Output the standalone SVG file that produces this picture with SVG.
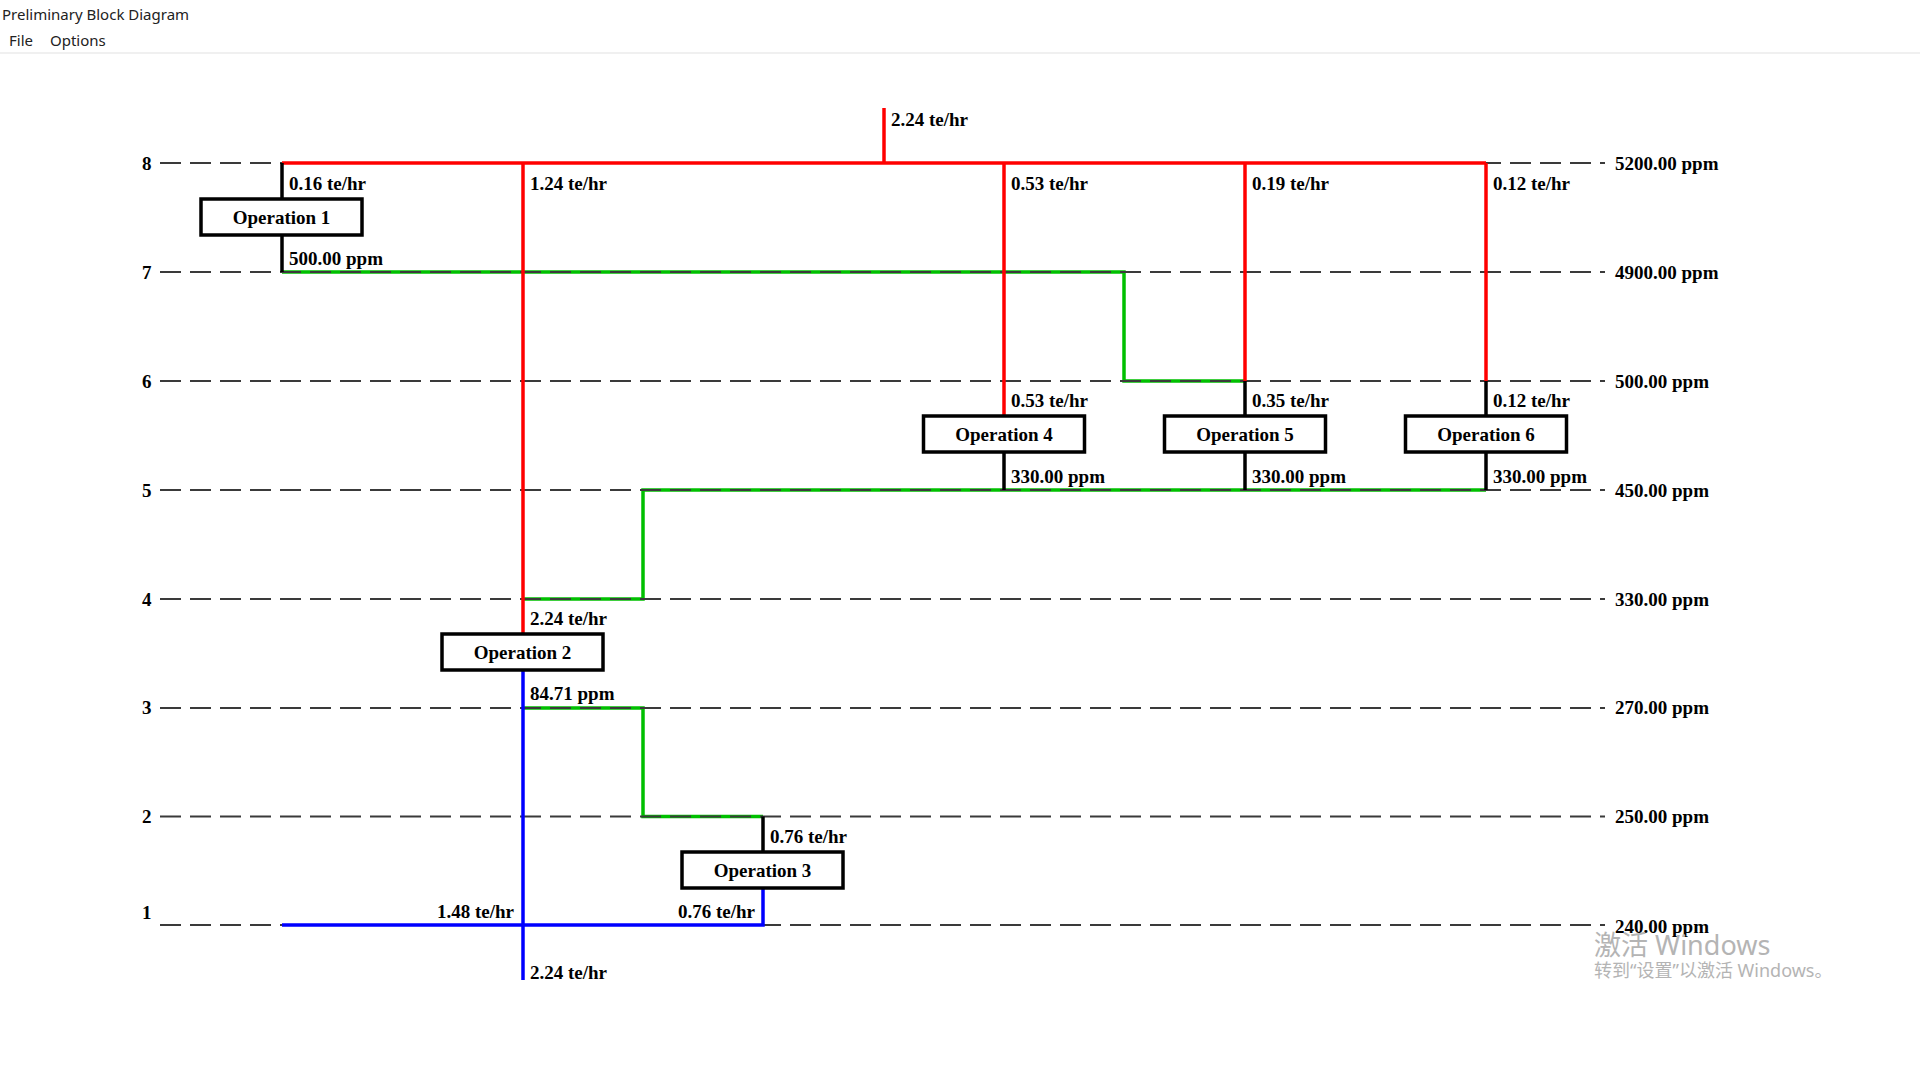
<svg xmlns="http://www.w3.org/2000/svg" width="1920" height="1072" viewBox="0 0 1920 1072">
<style>
.t{font-family:"Liberation Serif","Times New Roman",serif;font-weight:bold;font-size:19px;fill:#000}
.ui{font-family:"Noto Sans","Open Sans",sans-serif;font-size:15px;fill:#222}
.wm{font-family:"Noto Sans","Noto Sans CJK SC",sans-serif;fill:#b4b4b4}
.dash{stroke:#3a3a3a;stroke-width:2;stroke-dasharray:21 9;fill:none}
.r{stroke:#ff0000;stroke-width:3.5;fill:none}
.g{stroke:#00c000;stroke-width:3.5;fill:none}
.b{stroke:#0000ff;stroke-width:3.5;fill:none}
.k{stroke:#000;stroke-width:3.5;fill:none}
.box{fill:#fff;stroke:#000;stroke-width:3.5}
</style>
<rect x="0" y="0" width="1920" height="1072" fill="#fff"/>
<g id="window-chrome">
<text class="ui" x="2" y="20">Preliminary Block Diagram</text>
<text class="ui" x="9" y="46">File</text>
<text class="ui" x="50" y="46">Options</text>
<rect x="0" y="52" width="1920" height="2" fill="#f0f0f0"/>
</g>
<g id="connectors">
<path class="g" d="M282 272 H1124 V381 H1245"/>
<path class="g" d="M523 599 H643 V490 H1486"/>
<path class="g" d="M523 708 H643 V816.5 H763"/>
<g id="levels">
<line class="dash" x1="160" y1="163" x2="1605" y2="163"/>
<line class="dash" x1="160" y1="272" x2="1605" y2="272"/>
<line class="dash" x1="160" y1="381" x2="1605" y2="381"/>
<line class="dash" x1="160" y1="490" x2="1605" y2="490"/>
<line class="dash" x1="160" y1="599" x2="1605" y2="599"/>
<line class="dash" x1="160" y1="708" x2="1605" y2="708"/>
<line class="dash" x1="160" y1="816.5" x2="1605" y2="816.5"/>
<line class="dash" x1="160" y1="925" x2="1605" y2="925"/>
</g>
<path class="r" d="M884 108 V163"/>
<path class="r" d="M282 163 H1486"/>
<path class="r" d="M523 163 V634"/>
<path class="r" d="M1004 163 V416"/>
<path class="r" d="M1245 163 V381"/>
<path class="r" d="M1486 163 V381"/>
<path class="b" d="M523 670 V980"/>
<path class="b" d="M282 925 H763 V888"/>
<path class="k" d="M282 163 V199"/>
<path class="k" d="M282 235 V272"/>
<path class="k" d="M1004 452 V490"/>
<path class="k" d="M1245 381 V416"/>
<path class="k" d="M1245 452 V490"/>
<path class="k" d="M1486 381 V416"/>
<path class="k" d="M1486 452 V490"/>
<path class="k" d="M763 816.5 V852"/>
</g>
<g id="flow-labels">
<text class="t" x="891" y="126">2.24 te/hr</text>
<text class="t" x="289" y="190">0.16 te/hr</text>
<text class="t" x="530" y="190">1.24 te/hr</text>
<text class="t" x="1011" y="190">0.53 te/hr</text>
<text class="t" x="1252" y="190">0.19 te/hr</text>
<text class="t" x="1493" y="190">0.12 te/hr</text>
<text class="t" x="289" y="265">500.00 ppm</text>
<text class="t" x="1011" y="407">0.53 te/hr</text>
<text class="t" x="1252" y="407">0.35 te/hr</text>
<text class="t" x="1493" y="407">0.12 te/hr</text>
<text class="t" x="1011" y="483">330.00 ppm</text>
<text class="t" x="1252" y="483">330.00 ppm</text>
<text class="t" x="1493" y="483">330.00 ppm</text>
<text class="t" x="530" y="625">2.24 te/hr</text>
<text class="t" x="530" y="700">84.71 ppm</text>
<text class="t" x="770" y="843">0.76 te/hr</text>
<text class="t" x="514" y="918" text-anchor="end">1.48 te/hr</text>
<text class="t" x="755" y="918" text-anchor="end">0.76 te/hr</text>
<text class="t" x="530" y="979">2.24 te/hr</text>
</g>
<g id="level-labels">
<text class="t" x="142" y="170">8</text>
<text class="t" x="142" y="279">7</text>
<text class="t" x="142" y="388">6</text>
<text class="t" x="142" y="497">5</text>
<text class="t" x="142" y="606">4</text>
<text class="t" x="142" y="714">3</text>
<text class="t" x="142" y="823">2</text>
<text class="t" x="142" y="919">1</text>
<text class="t" x="1615" y="170">5200.00 ppm</text>
<text class="t" x="1615" y="279">4900.00 ppm</text>
<text class="t" x="1615" y="388">500.00 ppm</text>
<text class="t" x="1615" y="497">450.00 ppm</text>
<text class="t" x="1615" y="606">330.00 ppm</text>
<text class="t" x="1615" y="714">270.00 ppm</text>
<text class="t" x="1615" y="823">250.00 ppm</text>
<text class="t" x="1615" y="933">240.00 ppm</text>
</g>
<g id="op1"><rect class="box" x="201" y="199" width="161" height="36"/><text class="t" x="281.5" y="223.5" text-anchor="middle">Operation 1</text></g>
<g id="op2"><rect class="box" x="442" y="634" width="161" height="36"/><text class="t" x="522.5" y="658.5" text-anchor="middle">Operation 2</text></g>
<g id="op3"><rect class="box" x="682" y="852" width="161" height="36"/><text class="t" x="762.5" y="876.5" text-anchor="middle">Operation 3</text></g>
<g id="op4"><rect class="box" x="923.5" y="416" width="161" height="36"/><text class="t" x="1004" y="440.5" text-anchor="middle">Operation 4</text></g>
<g id="op5"><rect class="box" x="1164.5" y="416" width="161" height="36"/><text class="t" x="1245" y="440.5" text-anchor="middle">Operation 5</text></g>
<g id="op6"><rect class="box" x="1405.5" y="416" width="161" height="36"/><text class="t" x="1486" y="440.5" text-anchor="middle">Operation 6</text></g>
<g id="watermark">
<text class="wm" x="1594" y="955" font-size="27">激活 Windows</text>
<text class="wm" x="1594" y="977" font-size="18">转到“设置”以激活 Windows。</text>
</g>
</svg>
